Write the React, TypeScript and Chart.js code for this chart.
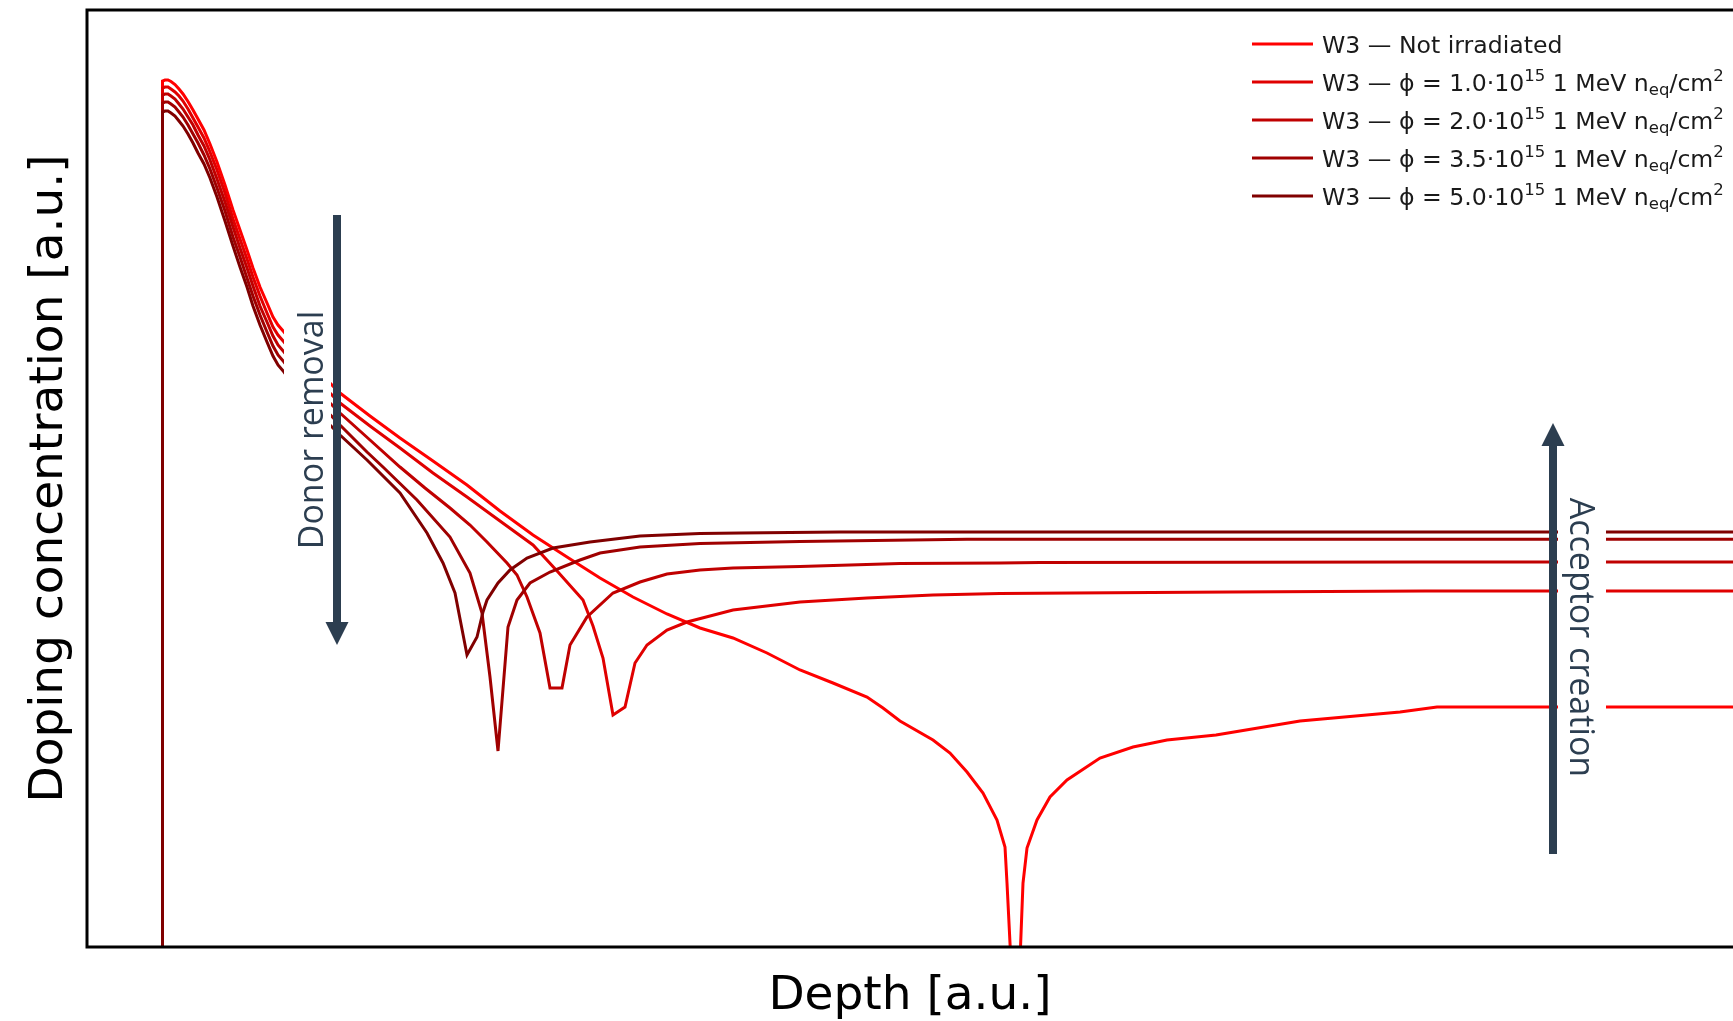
import React, { useEffect, useRef } from "react";
import { Chart, registerables } from "chart.js";

Chart.register(...registerables);

// ---------- series labels & colours ----------
const seriesLabels = [
  "W3 — Not irradiated",
  "W3 — ϕ = 1.0·10^{15} 1 MeV n_{eq}/cm^{2}",
  "W3 — ϕ = 2.0·10^{15} 1 MeV n_{eq}/cm^{2}",
  "W3 — ϕ = 3.5·10^{15} 1 MeV n_{eq}/cm^{2}",
  "W3 — ϕ = 5.0·10^{15} 1 MeV n_{eq}/cm^{2}",
];
const seriesColors = ["#ff0000", "#e00000", "#c00000", "#a00000", "#800000"];

// ---------- data (arbitrary units) ----------
const depthNotIrr = [7.55, 7.55, 7.8, 8.1, 8.4, 8.8, 9.2, 9.6, 10.1, 10.6, 11.1, 11.7, 12.3, 13.0, 13.8, 14.6, 15.3, 16.0, 16.6, 17.3, 18.0, 18.6, 19.1, 19.7, 21.3, 23.3, 25.3, 28.3, 31.3, 34.6, 38.0, 41.3, 44.6, 48.0, 51.3, 54.6, 58.0, 61.3, 64.6, 68.0, 71.3, 74.6, 78.0, 79.6, 81.3, 84.6, 86.3, 88.0, 89.6, 91.0, 91.8, 92.0, 92.9, 93.6, 94.0, 95.0, 96.3, 98.0, 101.3, 104.6, 108.0, 112.9, 121.3, 131.3, 135.0, 164.6];
const dopingNotIrr = [-2, 86.6, 86.7, 86.7, 86.55, 86.25, 85.8, 85.3, 84.55, 83.7, 82.8, 81.7, 80.3, 78.5, 76.2, 73.7, 71.7, 69.7, 67.9, 66.0, 64.4, 63.0, 62.2, 61.5, 59.5, 57.4, 55.4, 53.1, 50.9, 48.6, 46.2, 43.6, 41.2, 39.0, 36.9, 35.0, 33.3, 31.9, 30.9, 29.4, 27.7, 26.4, 25.0, 23.9, 22.6, 20.7, 19.4, 17.5, 15.4, 12.7, 10.0, 6.4, -11.6, 6.4, 9.9, 12.7, 15.0, 16.7, 18.9, 20.0, 20.7, 21.2, 22.6, 23.5, 24.0, 24.0];

const depthPhi10 = [7.55, 7.55, 7.8, 8.1, 8.4, 8.8, 9.2, 9.6, 10.1, 10.6, 11.1, 11.7, 12.3, 13.0, 13.8, 14.6, 15.3, 16.0, 16.6, 17.3, 18.0, 18.6, 19.1, 19.7, 21.3, 23.3, 25.3, 28.3, 31.3, 34.6, 38.0, 41.3, 44.6, 47.1, 49.6, 50.6, 51.6, 52.6, 53.8, 54.8, 56.0, 58.0, 60.0, 64.6, 71.3, 78.0, 84.6, 91.3, 98.6, 114.3, 133.8, 164.6];
const dopingPhi10 = [-2, 85.9, 86.0, 86.0, 85.8, 85.5, 85.1, 84.6, 83.8, 82.9, 82.0, 80.9, 79.5, 77.7, 75.4, 72.8, 70.8, 68.8, 67.0, 65.1, 63.4, 62.0, 61.2, 60.5, 58.5, 56.4, 54.4, 52.1, 49.9, 47.4, 45.0, 42.6, 40.2, 37.5, 34.7, 32.1, 28.9, 23.2, 24.0, 28.4, 30.2, 31.7, 32.5, 33.7, 34.5, 34.9, 35.2, 35.35, 35.4, 35.5, 35.6, 35.6];

const depthPhi20 = [7.55, 7.55, 7.8, 8.1, 8.4, 8.8, 9.2, 9.6, 10.1, 10.6, 11.1, 11.7, 12.3, 13.0, 13.8, 14.6, 15.3, 16.0, 16.6, 17.3, 18.0, 18.6, 19.1, 19.7, 21.3, 23.3, 25.3, 28.3, 31.3, 33.8, 36.3, 38.3, 40.0, 42.0, 43.0, 44.0, 45.3, 46.3, 47.5, 48.3, 50.0, 52.6, 55.3, 58.0, 61.3, 64.6, 71.3, 81.3, 91.3, 95.3, 133.3, 164.6];
const dopingPhi20 = [-2, 85.2, 85.3, 85.3, 85.1, 84.8, 84.3, 83.8, 83.0, 82.2, 81.2, 80.1, 78.7, 76.8, 74.5, 72.0, 69.9, 67.9, 66.1, 64.1, 62.5, 61.1, 60.2, 59.5, 57.5, 55.4, 53.4, 50.7, 48.0, 45.9, 43.9, 42.2, 40.5, 38.4, 37.2, 35.0, 31.4, 25.9, 25.9, 30.2, 33.0, 35.4, 36.5, 37.3, 37.7, 37.9, 38.05, 38.35, 38.4, 38.45, 38.5, 38.5];

const depthPhi35 = [7.55, 7.55, 7.8, 8.1, 8.4, 8.8, 9.2, 9.6, 10.1, 10.6, 11.1, 11.7, 12.3, 13.0, 13.8, 14.6, 15.3, 16.0, 16.6, 17.3, 18.0, 18.6, 19.1, 19.7, 21.3, 23.3, 25.3, 28.0, 29.6, 33.0, 36.3, 38.3, 39.5, 40.3, 41.1, 42.1, 43.0, 44.3, 46.3, 49.3, 51.3, 55.3, 61.3, 71.3, 88.0, 164.6];
const dopingPhi35 = [-2, 84.4, 84.5, 84.5, 84.3, 84.0, 83.5, 83.0, 82.2, 81.3, 80.4, 79.2, 77.8, 75.9, 73.6, 71.0, 69.0, 66.9, 65.1, 63.2, 61.5, 60.1, 59.2, 58.5, 56.4, 54.3, 52.2, 49.5, 48.0, 44.7, 41.0, 37.4, 33.4, 27.0, 19.6, 32.0, 34.7, 36.4, 37.5, 38.7, 39.4, 40.0, 40.35, 40.55, 40.77, 40.77];

const depthPhi50 = [7.55, 7.55, 7.8, 8.1, 8.4, 8.8, 9.2, 9.6, 10.1, 10.6, 11.1, 11.7, 12.3, 13.0, 13.8, 14.6, 15.3, 16.0, 16.6, 17.3, 18.0, 18.6, 19.1, 19.7, 21.3, 23.3, 25.3, 28.0, 31.3, 34.0, 35.6, 36.8, 38.0, 39.0, 39.6, 40.0, 41.1, 42.3, 44.0, 46.6, 50.3, 55.3, 61.3, 65.3, 75.3, 164.6];
const dopingPhi50 = [-2, 83.5, 83.6, 83.6, 83.4, 83.1, 82.6, 82.1, 81.3, 80.4, 79.4, 78.3, 76.9, 75.0, 72.6, 70.1, 68.0, 66.0, 64.1, 62.2, 60.5, 59.1, 58.2, 57.5, 55.3, 53.2, 51.2, 48.7, 45.4, 41.4, 38.4, 35.4, 29.2, 31.0, 33.5, 34.7, 36.4, 37.7, 38.9, 39.9, 40.5, 41.1, 41.35, 41.4, 41.5, 41.5];

const seriesDepths = [depthNotIrr, depthPhi10, depthPhi20, depthPhi35, depthPhi50];
const seriesDoping = [dopingNotIrr, dopingPhi10, dopingPhi20, dopingPhi35, dopingPhi50];

// axis extents (a.u.)
const depthMin = 0;
const depthMax = 164.6;
const dopingMin = 0;
const dopingMax = 93.7;

// annotation anchors (a.u.)
const donorArrow = { depth: 25.0, from: 73.2, to: 30.2, label: "Donor removal", labelCenter: 51.7 };
const acceptorArrow = { depth: 146.6, from: 9.3, to: 52.4, label: "Acceptor creation", labelCenter: 30.95 };

const ANNOT_COLOR = "#2c3e50";
const ANNOT_FONT = '34px "Open Sans"';

function drawRich(ctx: CanvasRenderingContext2D, text: string, x: number, baseline: number, size: number) {
  const parts = text.split(/(\^\{[^}]*\}|_\{[^}]*\})/).filter((p) => p.length > 0);
  let cx = x;
  for (const p of parts) {
    let s = size;
    let dy = 0;
    let t = p;
    if (p.startsWith("^{")) {
      s = size * 0.7;
      dy = -9.5;
      t = p.slice(2, -1);
    } else if (p.startsWith("_{")) {
      s = size * 0.7;
      dy = 4.5;
      t = p.slice(2, -1);
    }
    ctx.font = `${s}px "DejaVu Sans"`;
    ctx.fillText(t, cx, baseline + dy);
    cx += ctx.measureText(t).width;
  }
}

function drawArrow(ctx: CanvasRenderingContext2D, x: number, yFrom: number, yTo: number) {
  const shaft = 8;
  const headLen = 23;
  const headHalf = 11.5;
  const dir = yTo > yFrom ? 1 : -1;
  const yBase = yTo - dir * headLen;
  ctx.fillStyle = ANNOT_COLOR;
  ctx.fillRect(x - shaft / 2, Math.min(yFrom, yBase), shaft, Math.abs(yBase - yFrom));
  ctx.beginPath();
  ctx.moveTo(x - headHalf, yBase);
  ctx.lineTo(x + headHalf, yBase);
  ctx.lineTo(x, yTo);
  ctx.closePath();
  ctx.fill();
}

const annotationPlugin = {
  id: "annotations",
  afterDatasetsDraw(chart: any) {
    const ctx: CanvasRenderingContext2D = chart.ctx;
    const xs = chart.scales.x;
    const ys = chart.scales.y;
    ctx.save();
    ctx.font = ANNOT_FONT;

    // Donor removal
    {
      const ax = xs.getPixelForValue(donorArrow.depth);
      const cy = ys.getPixelForValue(donorArrow.labelCenter);
      const w = ctx.measureText(donorArrow.label).width;
      ctx.fillStyle = "#ffffff";
      ctx.fillRect(ax - 53, cy - w / 2 - 10, 47, w + 20);
      drawArrow(ctx, ax, ys.getPixelForValue(donorArrow.from), ys.getPixelForValue(donorArrow.to));
      ctx.save();
      ctx.translate(ax - 14, cy);
      ctx.rotate(-Math.PI / 2);
      ctx.fillStyle = ANNOT_COLOR;
      ctx.textAlign = "center";
      ctx.textBaseline = "alphabetic";
      ctx.font = ANNOT_FONT;
      ctx.fillText(donorArrow.label, 0, 0);
      ctx.restore();
    }

    // Acceptor creation
    {
      const ax = xs.getPixelForValue(acceptorArrow.depth);
      const cy = ys.getPixelForValue(acceptorArrow.labelCenter);
      const w = ctx.measureText(acceptorArrow.label).width;
      ctx.fillStyle = "#ffffff";
      ctx.fillRect(ax + 5, cy - w / 2 - 10, 48, w + 20);
      drawArrow(ctx, ax, ys.getPixelForValue(acceptorArrow.from), ys.getPixelForValue(acceptorArrow.to));
      ctx.save();
      ctx.translate(ax + 16.5, cy);
      ctx.rotate(Math.PI / 2);
      ctx.fillStyle = ANNOT_COLOR;
      ctx.textAlign = "center";
      ctx.textBaseline = "alphabetic";
      ctx.font = ANNOT_FONT;
      ctx.fillText(acceptorArrow.label, 0, 0);
      ctx.restore();
    }
    ctx.restore();
  },
};

const framePlugin = {
  id: "frame",
  afterDraw(chart: any) {
    const ctx: CanvasRenderingContext2D = chart.ctx;
    const { left, top, right, bottom } = chart.chartArea;
    ctx.save();
    ctx.strokeStyle = "#000000";
    ctx.lineWidth = 3;
    ctx.beginPath();
    ctx.moveTo(right + 20, top);
    ctx.lineTo(left, top);
    ctx.lineTo(left, bottom);
    ctx.lineTo(right + 20, bottom);
    ctx.stroke();
    ctx.restore();
  },
};

const legendPlugin = {
  id: "richLegend",
  afterDraw(chart: any) {
    const ctx: CanvasRenderingContext2D = chart.ctx;
    const lineX0 = 1252;
    const lineX1 = 1313;
    const textX = 1322;
    const rowY0 = 44;
    const rowGap = 38;
    const size = 23.6;
    ctx.save();
    chart.data.datasets.forEach((ds: any, i: number) => {
      const y = rowY0 + i * rowGap;
      ctx.strokeStyle = ds.borderColor;
      ctx.lineWidth = 3;
      ctx.beginPath();
      ctx.moveTo(lineX0, y);
      ctx.lineTo(lineX1, y);
      ctx.stroke();
      ctx.fillStyle = "#1a1a1a";
      ctx.textBaseline = "alphabetic";
      ctx.textAlign = "left";
      drawRich(ctx, ds.label, textX, y + 8.5, size);
    });
    ctx.restore();
  },
};

export default function App() {
  const canvasRef = useRef<HTMLCanvasElement | null>(null);

  useEffect(() => {
    document.body.style.margin = "0";
    document.body.style.overflow = "hidden";
    const canvas = canvasRef.current;
    if (!canvas) return;

    const datasets = seriesLabels.map((label, i) => ({
      label,
      data: seriesDepths[i].map((x, j) => ({ x, y: seriesDoping[i][j] })),
      borderColor: seriesColors[i],
      backgroundColor: seriesColors[i],
      borderWidth: 3,
      pointRadius: 0,
      pointHoverRadius: 0,
      tension: 0,
      fill: false,
      order: seriesLabels.length - 1 - i,
    }));

    const chart = new Chart(canvas, {
      type: "line",
      data: { datasets },
      options: {
        animation: false,
        responsive: false,
        maintainAspectRatio: false,
        layout: { padding: { top: 10, right: 0, bottom: 0, left: 0 } },
        plugins: {
          legend: { display: false },
          tooltip: { enabled: false },
        },
        scales: {
          x: {
            type: "linear",
            min: depthMin,
            max: depthMax,
            ticks: { display: false },
            grid: { display: false },
            border: { display: false },
            title: {
              display: true,
              text: "Depth [a.u.]",
              color: "#000000",
              font: { family: "DejaVu Sans", size: 47, lineHeight: 1 },
              padding: { top: 0, bottom: 1.2 },
            },
            afterFit: (s: any) => {
              s.height = 74;
            },
          },
          y: {
            type: "linear",
            min: dopingMin,
            max: dopingMax,
            ticks: { display: false },
            grid: { display: false },
            border: { display: false },
            title: {
              display: true,
              text: "Doping concentration [a.u.]",
              color: "#000000",
              font: { family: "DejaVu Sans", size: 47 },
              padding: { top: 21.5, bottom: 0 },
            },
            afterFit: (s: any) => {
              s.width = 87;
            },
          },
        },
      } as any,
      plugins: [annotationPlugin, framePlugin, legendPlugin],
    });

    return () => {
      chart.destroy();
    };
  }, []);

  return (
    <div style={{ width: 1733, height: 1021, background: "#ffffff" }}>
      <canvas ref={canvasRef} width={1733} height={1021} style={{ display: "block" }} />
    </div>
  );
}
